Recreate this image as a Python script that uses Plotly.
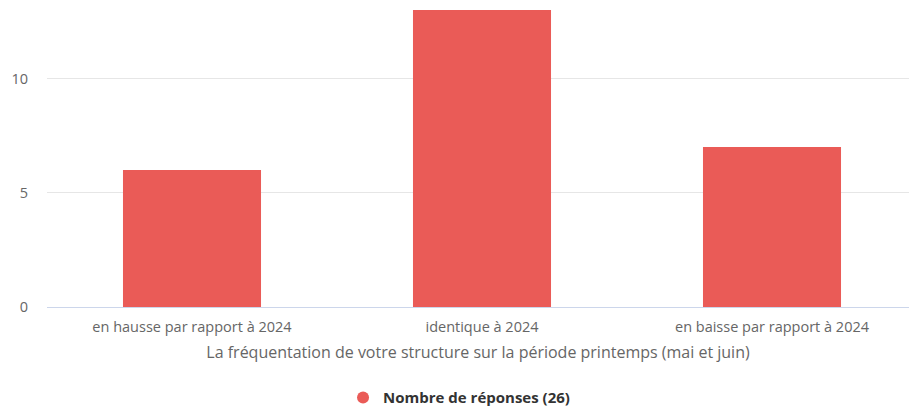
import plotly.graph_objects as go

categories = ["en hausse par rapport à 2024", "identique à 2024", "en baisse par rapport à 2024"]
responses = [6, 13, 7]
series_name = "Nombre de réponses (26)"
x_title = "La fréquentation de votre structure sur la période printemps (mai et juin)"
y_ticks = [0, 5, 10]

bar_color = "#ea5b57"

fig = go.Figure()
fig.add_trace(go.Bar(
    x=categories, y=responses, name=series_name,
    marker=dict(color=bar_color, line=dict(width=0)),
    width=0.476, showlegend=False,
))
# circle legend symbol like the original
fig.add_trace(go.Scatter(
    x=[None], y=[None], mode="markers", name=series_name,
    marker=dict(color=bar_color, size=15, symbol="circle"),
))

fig.update_layout(
    width=909, height=410,
    margin=dict(l=47, r=0, t=10, b=103),
    paper_bgcolor="white", plot_bgcolor="white",
    font=dict(family="Open Sans, sans-serif", size=14.5, color="#666666"),
    xaxis=dict(
        range=[-0.5, 2.4724], showgrid=False, showline=True, automargin=False,
        linecolor="#ccd6eb", linewidth=1, ticks="", zeroline=False,
        ticklabelstandoff=7,
        tickfont=dict(size=14.5, color="#666666"),
        title=dict(text=x_title, font=dict(size=16, color="#666666"), standoff=11),
    ),
    yaxis=dict(
        range=[0, 13], tickvals=y_ticks, showgrid=True, gridcolor="#e6e6e6",
        zeroline=False, showline=False, ticks="", ticklabelstandoff=18, automargin=False,
        tickfont=dict(size=14.5, color="#666666"),
    ),
    legend=dict(
        orientation="h", xref="container", yref="container",
        x=0.505, xanchor="center", y=0.03, yanchor="middle",
        font=dict(size=15, color="#333333", weight="bold"),
        itemsizing="constant",
    ),
)

# page body has an 8px default margin, drop it
fig.write_html("out.html", config={"displayModeBar": False},
               post_script="document.body.style.margin='0px';")
